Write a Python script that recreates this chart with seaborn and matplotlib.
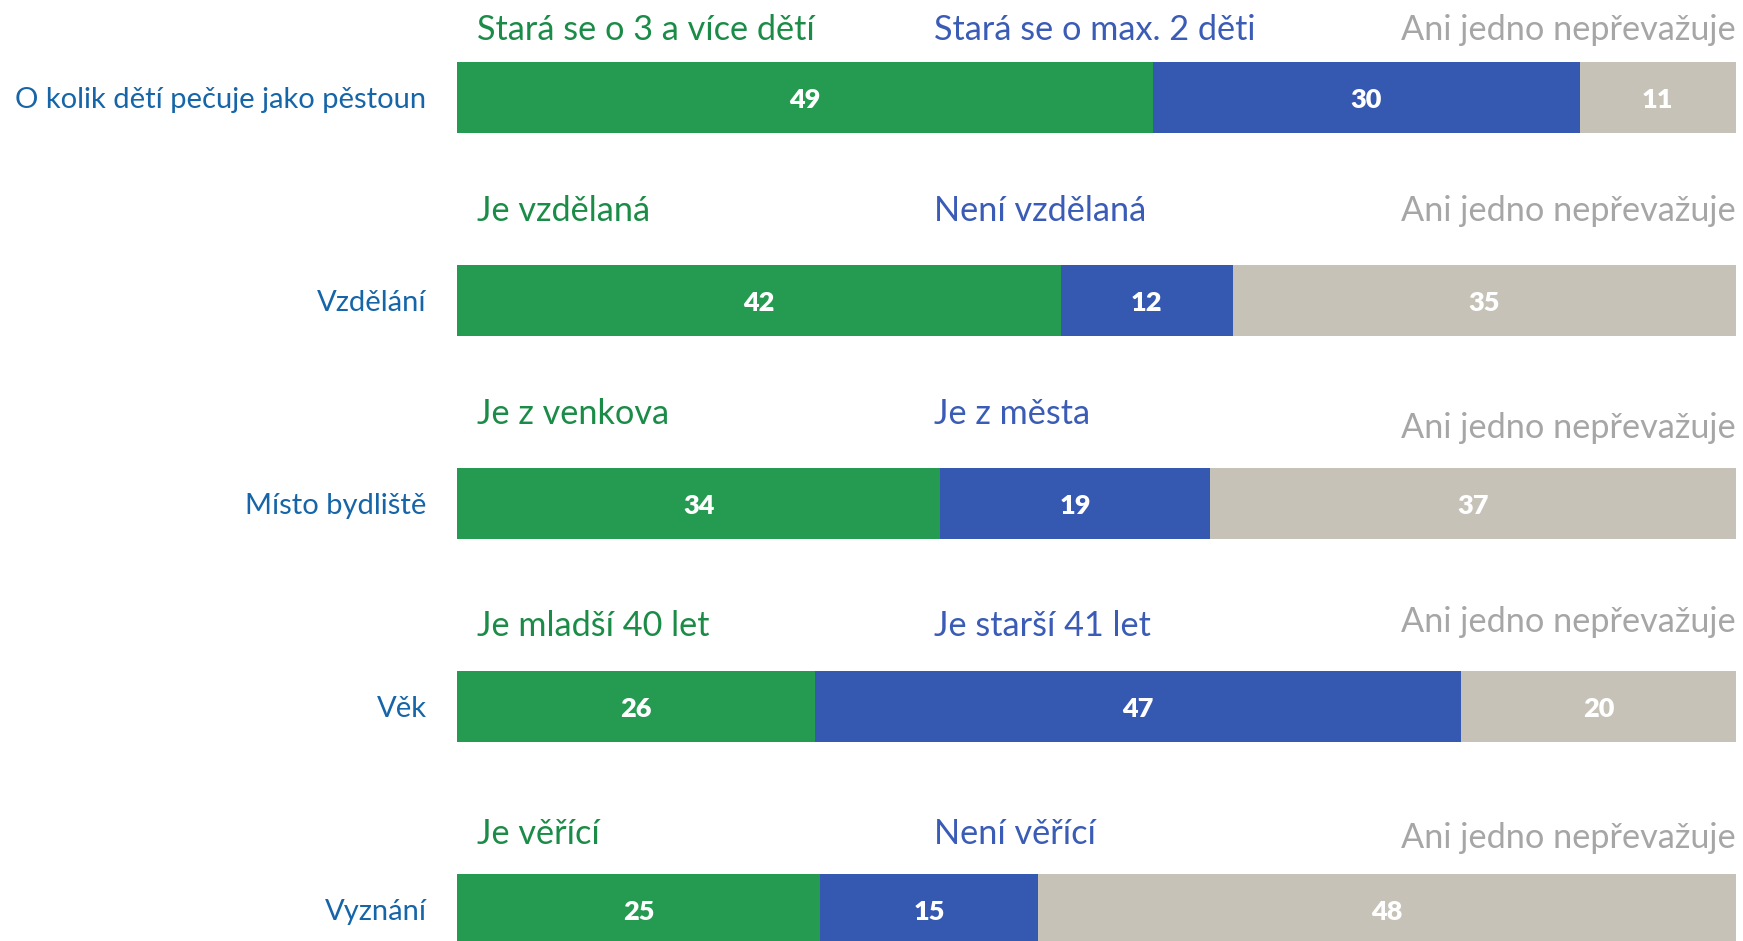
import matplotlib
matplotlib.use("Agg")
import numpy as np
import pandas as pd
import seaborn as sns
import matplotlib.pyplot as plt

sns.set_theme(style="white")
plt.rcParams["font.family"] = ["Lato", "DejaVu Sans"]

# data
categories = ["O kolik dětí pečuje jako pěstoun", "Vzdělání", "Místo bydliště", "Věk", "Vyznání"]
first_labels = ["Stará se o 3 a více dětí", "Je vzdělaná", "Je z venkova", "Je mladší 40 let", "Je věřící"]
second_labels = ["Stará se o max. 2 děti", "Není vzdělaná", "Je z města", "Je starší 41 let", "Není věřící"]
neutral_label = "Ani jedno nepřevažuje"
first_vals = [49, 42, 34, 26, 25]
second_vals = [30, 12, 19, 47, 15]
neutral_vals = [11, 35, 37, 20, 48]

green, blue, grey = "#259B52", "#3558B1", "#C6C2B7"
green_txt, blue_txt, grey_txt, cat_txt = "#1B8C47", "#3A5BB6", "#A6A6A6", "#1565A8"

df = pd.DataFrame({"cat": categories, "a": first_vals, "b": second_vals, "c": neutral_vals})
tot = df[["a", "b", "c"]].sum(axis=1)
df["s_a"] = df["a"] / tot
df["s_ab"] = (df["a"] + df["b"]) / tot
df["s_abc"] = (df["a"] + df["b"] + df["c"]) / tot

fig = plt.figure(figsize=(17.43, 9.41), dpi=100)
ax = fig.add_axes([457 / 1743, 0, 1279 / 1743, 1])

# stacked bars drawn as overlapping cumulative bars
for col, c in [("s_abc", grey), ("s_ab", blue), ("s_a", green)]:
    sns.barplot(data=df, x=col, y="cat", orient="h", color=c, width=0.35,
                saturation=1, ax=ax, linewidth=0)

ax.set_xlim(0, 1)
ax.set_ylim(4 + 31.5 / 203, -97.5 / 203)
ax.set_xlabel("")
ax.set_ylabel("")
ax.set_xticks([])
sns.despine(ax=ax, left=True, bottom=True)
ax.tick_params(axis="y", length=0, pad=22)
for t in ax.get_yticklabels():
    t.set_color(cat_txt)
    t.set_fontsize(21)

# value labels in segment centres
for i, row in df.iterrows():
    segs = [(0, row["s_a"], row["a"]), (row["s_a"], row["s_ab"], row["b"]),
            (row["s_ab"], row["s_abc"], row["c"])]
    for x0, x1, v in segs:
        ax.text((x0 + x1) / 2, i + 0.012, f"{v}", ha="center", va="center",
                color="white", fontsize=19.5, fontweight="heavy")

# option labels above each bar
lab_off = [67.5, 89.5, 89, 81, 75]
grey_off = [67.5, 89.5, 75, 84, 72]
for i in range(len(categories)):
    ax.text(0.0156, i - lab_off[i] / 203, first_labels[i], ha="left", va="center",
            color=green_txt, fontsize=24.7)
    ax.text(0.373, i - lab_off[i] / 203, second_labels[i], ha="left", va="center",
            color=blue_txt, fontsize=24.7)
    ax.text(1.0, i - grey_off[i] / 203, neutral_label, ha="right", va="center",
            color=grey_txt, fontsize=24.7)

fig.savefig("out.png", dpi=100)
